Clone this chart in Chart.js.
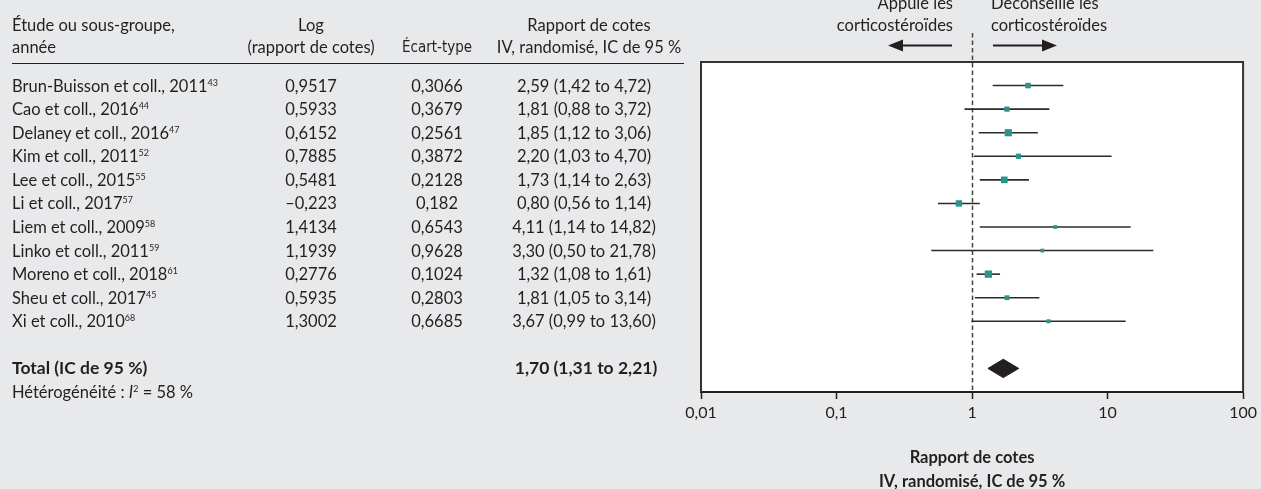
<!DOCTYPE html>
<html lang="fr">
<head>
<meta charset="utf-8">
<script src="https://cdn.jsdelivr.net/npm/chart.js@4.4.0/dist/chart.umd.min.js"></script>
<style>
  html, body { margin: 0; padding: 0; background: #e8e9eb; }
  #wrap { position: relative; width: 1261px; height: 489px; overflow: hidden;
          font-family: Lato, "Noto Sans", sans-serif; font-size: 16.5px; color: #231f20; }
  #myChart { position: absolute; left: 0; top: 0; }
  .t { position: absolute; white-space: nowrap; line-height: 1; transform: translateY(-50%); }
  .c { transform: translate(-50%, -50%); }
  .r { transform: translate(-100%, -50%); }
  .narrow { font-family: "Liberation Sans Narrow", "DejaVu Sans Condensed", sans-serif; font-size: 15px; }
  .b { font-weight: 700; font-size: 17.5px; }
  sup { font-size: 9px; vertical-align: 6px; line-height: 0; }
  #rule { position: absolute; left: 12px; width: 672px; top: 63px; border-top: 1.5px solid #231f20; }
</style>
</head>
<body>
<div id="wrap">
  <canvas id="myChart" width="1261" height="489"></canvas>
  <div id="rule"></div>
</div>
<script>
// studies
const studies = ['Brun-Buisson et coll., 2011', 'Cao et coll., 2016', 'Delaney et coll., 2016',
  'Kim et coll., 2011', 'Lee et coll., 2015', 'Li et coll., 2017', 'Liem et coll., 2009',
  'Linko et coll., 2011', 'Moreno et coll., 2018', 'Sheu et coll., 2017', 'Xi et coll., 2010'];
const refs = ['43', '44', '47', '52', '55', '57', '58', '59', '61', '45', '68'];
const logOR = [0.9517, 0.5933, 0.6152, 0.7885, 0.5481, -0.223, 1.4134, 1.1939, 0.2776, 0.5935, 1.3002];
const se = [0.3066, 0.3679, 0.2561, 0.3872, 0.2128, 0.182, 0.6543, 0.9628, 0.1024, 0.2803, 0.6685];
const ciText = ['2,59 (1,42 to 4,72)', '1,81 (0,88 to 3,72)', '1,85 (1,12 to 3,06)', '2,20 (1,03 to 4,70)',
  '1,73 (1,14 to 2,63)', '0,80 (0,56 to 1,14)', '4,11 (1,14 to 14,82)', '3,30 (0,50 to 21,78)',
  '1,32 (1,08 to 1,61)', '1,81 (1,05 to 3,14)', '3,67 (0,99 to 13,60)'];

// what is plotted (Kim upper end is drawn near 10.7)
const oddsRatio = [2.59, 1.81, 1.85, 2.20, 1.73, 0.80, 4.11, 3.30, 1.32, 1.81, 3.67];
const ciLow = [1.42, 0.88, 1.12, 1.03, 1.14, 0.56, 1.14, 0.50, 1.08, 1.05, 0.99];
const ciHigh = [4.72, 3.72, 3.06, 10.7, 2.63, 1.14, 14.82, 21.78, 1.61, 3.14, 13.60];
const weights = [8, 6.5, 19, 6.5, 15, 13, 1.5, 1.5, 20, 5, 2];

// total
const totalOR = 1.70, totalLow = 1.31, totalHigh = 2.21;
const totalText = '1,70 (1,31 to 2,21)';
const totalRow = 12;

const xTicks = [0.01, 0.1, 1, 10, 100];
const xTickLabels = ['0,01', '0,1', '1', '10', '100'];

const ink = '#231f20';
const teal = '#2a938b';

const fr = v => String(v).replace('.', ',').replace('-', '–');

// datasets
const ciSets = studies.map((s, i) => ({
  data: [{x: ciLow[i], y: i}, {x: ciHigh[i], y: i}],
  showLine: true, borderColor: '#2b2b2b', borderWidth: 1.6, pointRadius: 0, order: 1
}));

const squares = {
  data: oddsRatio.map((v, i) => ({x: v, y: i})),
  pointStyle: 'rect',
  pointRadius: weights.map(w => (2.4 + 1.1 * Math.sqrt(w)) / Math.SQRT2),
  backgroundColor: teal, borderWidth: 0, order: 0
};

const diamond = {
  data: [{x: totalLow, y: totalRow}, {x: totalOR, y: totalRow - 0.39}, {x: totalHigh, y: totalRow},
         {x: totalOR, y: totalRow + 0.39}, {x: totalLow, y: totalRow}],
  showLine: true, fill: 'shape', backgroundColor: ink, borderColor: ink, borderWidth: 1,
  pointRadius: 0, order: 0
};

// box, white plot area, dashed line at 1, arrows
const frame = {
  id: 'frame',
  beforeDraw(chart) {
    const {ctx, chartArea: a} = chart;
    ctx.save();
    ctx.fillStyle = '#fff';
    ctx.fillRect(a.left, a.top, a.right - a.left, a.bottom - a.top);
    ctx.restore();
  },
  beforeDatasetsDraw(chart) {
    const {ctx, chartArea: a, scales: {x}} = chart;
    const px = Math.round(x.getPixelForValue(1)) + 0.5;
    ctx.save();
    ctx.strokeStyle = '#444';
    ctx.lineWidth = 1.5;
    ctx.setLineDash([4.5, 3]);
    ctx.beginPath();
    ctx.moveTo(px, 33);
    ctx.lineTo(px, a.bottom);
    ctx.stroke();
    ctx.restore();
  },
  afterDraw(chart) {
    const {ctx, chartArea: a} = chart;
    ctx.save();
    ctx.strokeStyle = '#333';
    ctx.lineWidth = 2;
    ctx.beginPath();
    ctx.moveTo(a.left, a.bottom);
    ctx.lineTo(a.left, a.top);
    ctx.lineTo(a.right, a.top);
    ctx.lineTo(a.right, a.bottom);
    ctx.stroke();
    // arrows
    ctx.fillStyle = ink;
    ctx.strokeStyle = ink;
    ctx.lineWidth = 2;
    const ay = 45.5;
    ctx.beginPath(); ctx.moveTo(900, ay); ctx.lineTo(952, ay); ctx.stroke();
    ctx.beginPath(); ctx.moveTo(888, ay); ctx.lineTo(903, ay - 6); ctx.lineTo(903, ay + 6); ctx.closePath(); ctx.fill();
    ctx.beginPath(); ctx.moveTo(993, ay); ctx.lineTo(1045, ay); ctx.stroke();
    ctx.beginPath(); ctx.moveTo(1057, ay); ctx.lineTo(1042, ay - 6); ctx.lineTo(1042, ay + 6); ctx.closePath(); ctx.fill();
    ctx.restore();
  }
};

const config = {
  type: 'scatter',
  data: {datasets: [squares, diamond, ...ciSets]},
  options: {
    responsive: false,
    animation: false,
    devicePixelRatio: 1,
    layout: {padding: {left: 701, right: 13, top: 62, bottom: 0}},
    plugins: {legend: {display: false}, tooltip: {enabled: false}},
    events: [],
    scales: {
      x: {
        type: 'logarithmic',
        min: 0.01, max: 100,
        afterBuildTicks: s => { s.ticks = xTicks.map(v => ({value: v})); },
        afterFit: s => { s.height = 97; },
        ticks: {
          callback: (v) => xTickLabels[xTicks.indexOf(v)] ?? '',
          font: {family: 'Lato', size: 16}, color: ink, padding: 4, maxRotation: 0
        },
        grid: {drawOnChartArea: false, drawTicks: true, tickLength: 7, tickColor: ink, tickWidth: 1.5},
        border: {display: true, color: ink, width: 2},
        title: {
          display: true, text: ['Rapport de cotes', 'IV, randomisé, IC de 95 %'],
          font: {family: 'Lato', size: 16.5, weight: 'bold', lineHeight: 1.45}, color: ink,
          padding: {top: 0, bottom: -5}
        }
      },
      y: {display: false, min: -1, max: 13, reverse: true}
    }
  },
  plugins: [frame]
};

const myChart = new Chart(document.getElementById('myChart'), config);

// table text
const wrap = document.getElementById('wrap');
function put(html, x, y, cls) {
  const d = document.createElement('div');
  d.className = 't ' + (cls || '');
  d.style.left = x + 'px';
  d.style.top = y + 'px';
  d.innerHTML = html;
  wrap.appendChild(d);
}

const colLog = 311, colSe = 437, colCi = 589;
put('Étude ou sous-groupe,', 12, 25);
put('année', 12, 47);
put('Log', colLog, 25, 'c');
put('(rapport de cotes)', colLog, 47, 'c');
put('Écart-type', colSe, 47, 'c narrow');
put('Rapport de cotes', colCi, 25, 'c');
put('IV, randomisé, IC de 95 %', colCi, 47, 'c');

put('Appuie les', 953, 3, 'r');
put('corticostéroïdes', 953, 25, 'r');
put('Déconseille les', 991, 3);
put('corticostéroïdes', 991, 25);

const yScale = myChart.scales.y;
studies.forEach((s, i) => {
  const y = yScale.getPixelForValue(i);
  put(s + '<sup>' + refs[i] + '</sup>', 12, y);
  put(fr(logOR[i]), colLog, y, 'c');
  put(fr(se[i]), colSe, y, 'c');
  put(ciText[i], colCi - 5, y, 'c');
});
const yt = yScale.getPixelForValue(totalRow);
put('Total (IC de 95 %)', 12, yt, 'b');
put(totalText, colCi - 3, yt, 'c b');
put('Hétérogénéité : <i>I</i><sup>2</sup> = 58 %', 12, yt + 24);
</script>
</body>
</html>
